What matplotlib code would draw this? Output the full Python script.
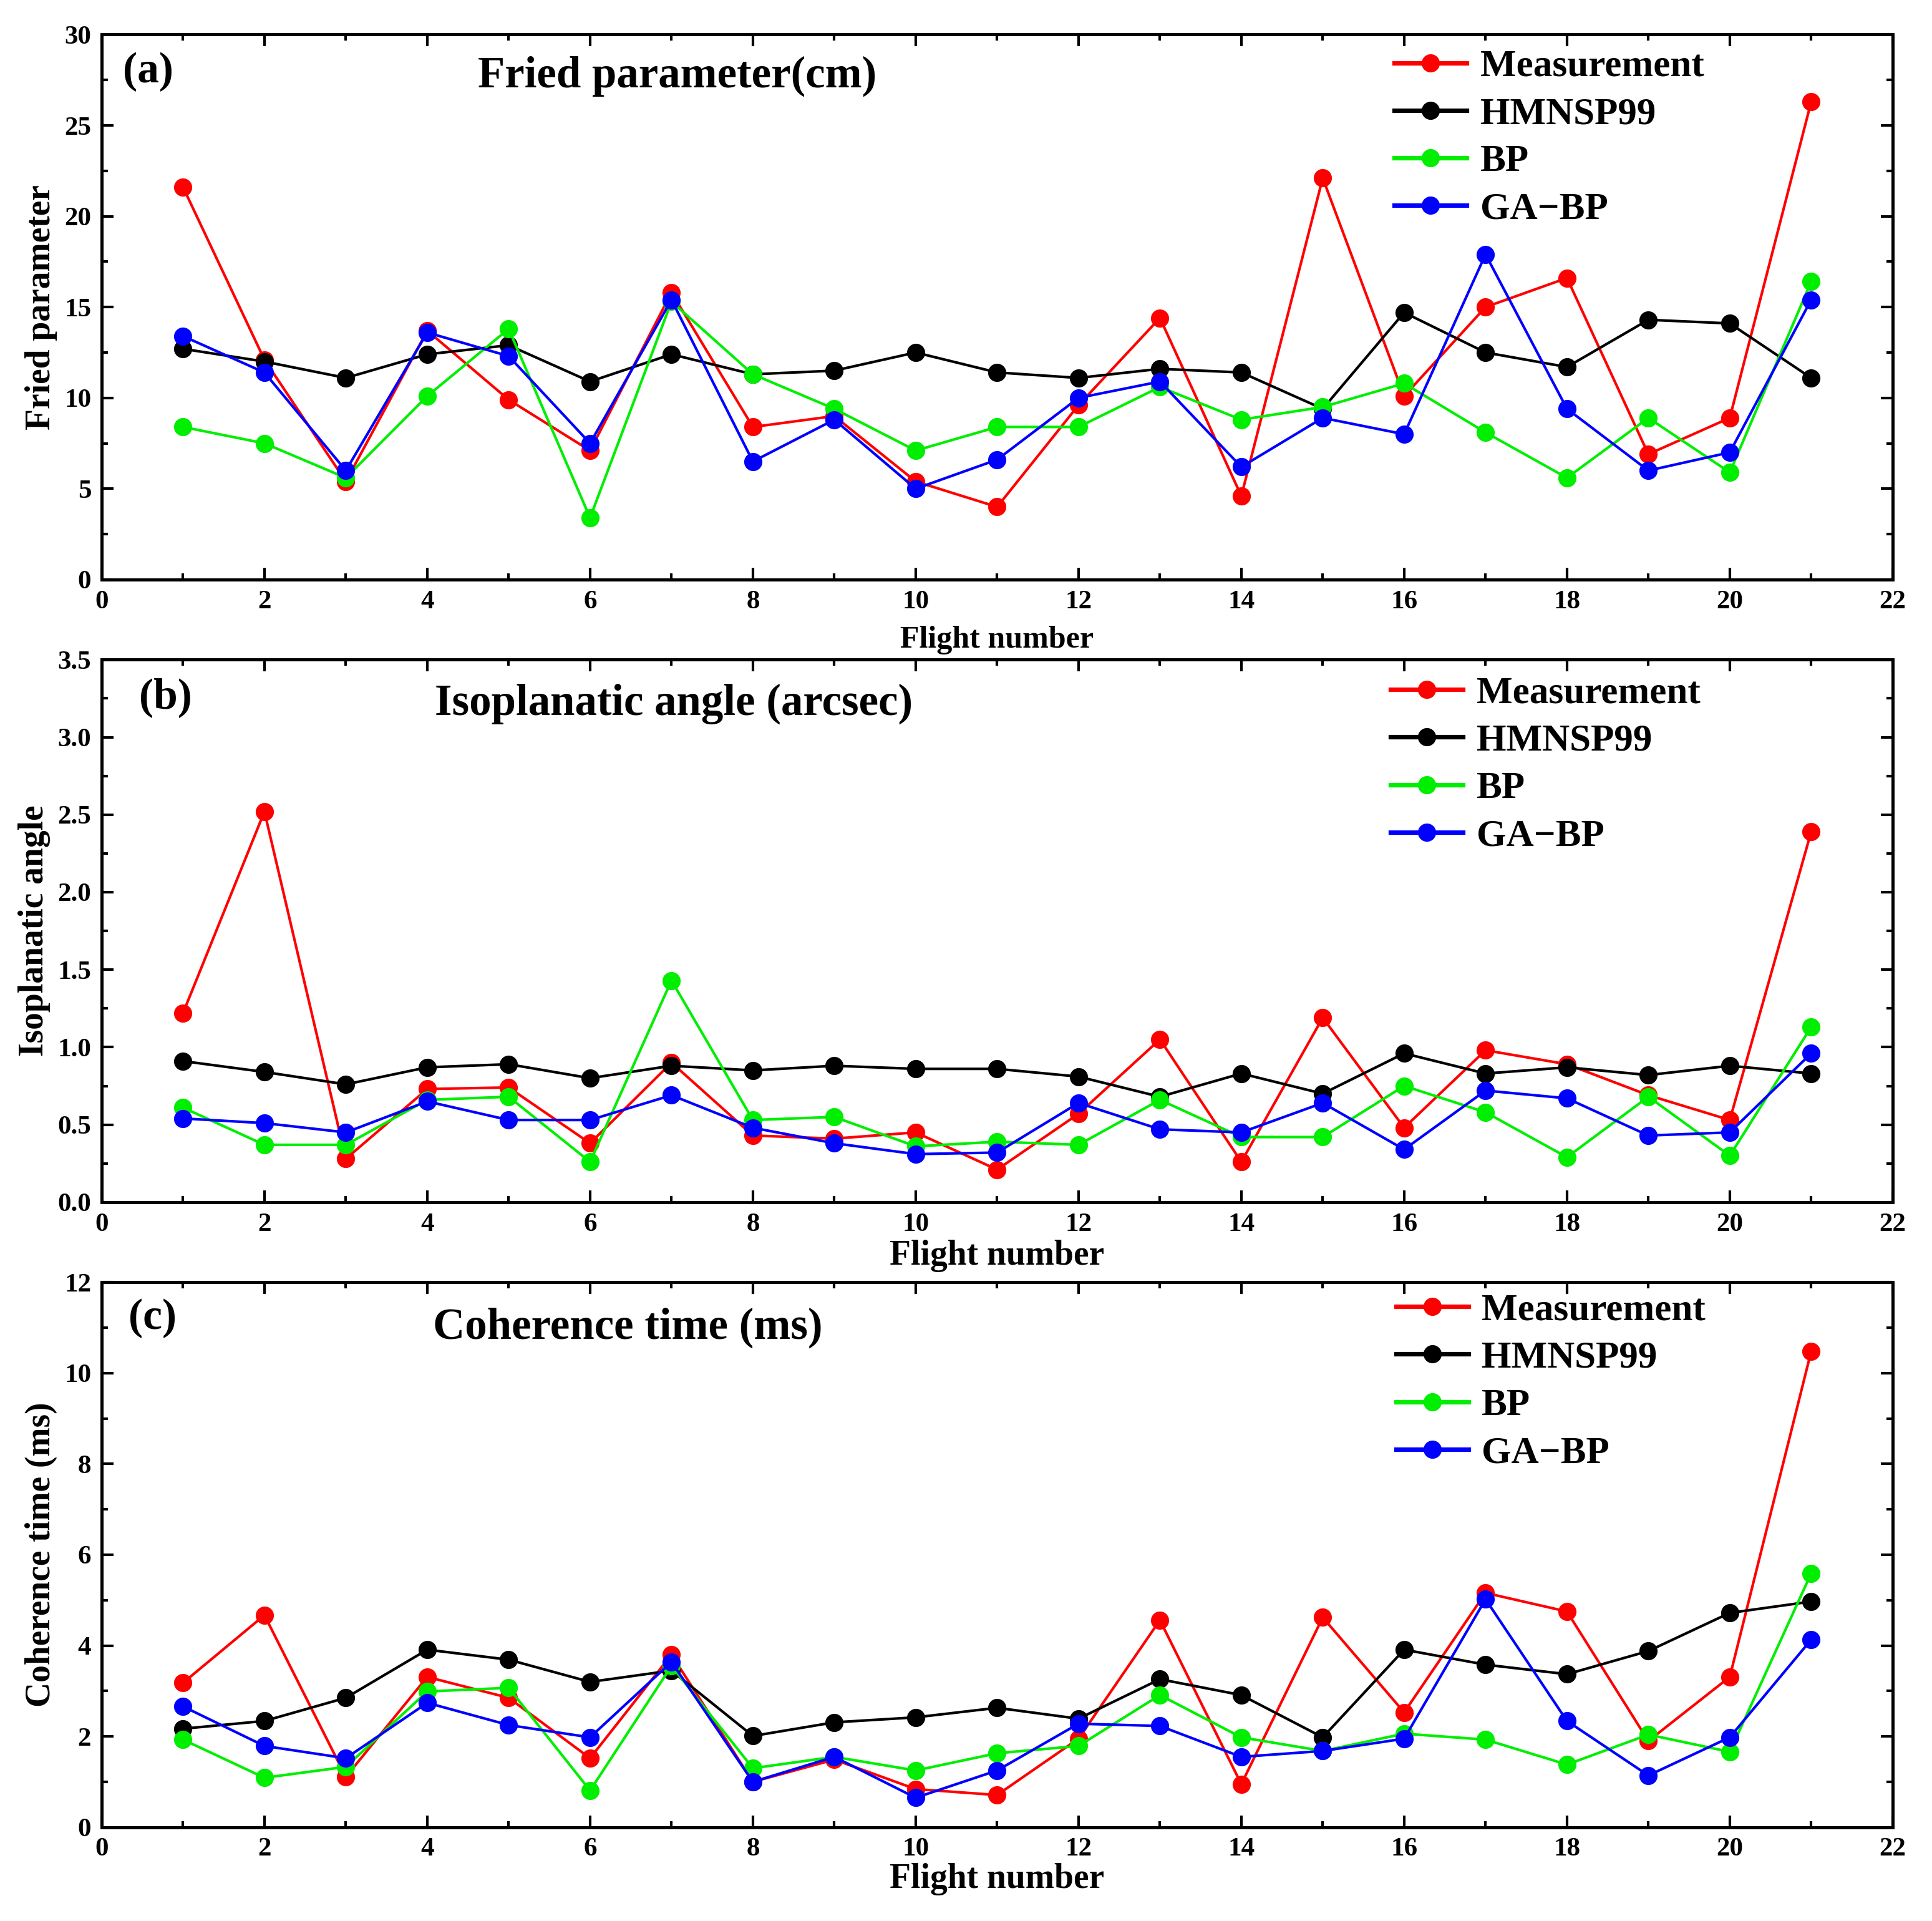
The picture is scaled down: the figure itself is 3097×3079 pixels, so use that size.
import matplotlib
matplotlib.use("Agg")
import matplotlib.pyplot as plt
from matplotlib.ticker import MultipleLocator

plt.rcParams['font.family'] = ['Liberation Serif', 'DejaVu Serif']
plt.rcParams['font.weight'] = 'bold'

flights = list(range(1, 22))

# (a) Fried parameter (cm)
r0_meas = [21.6, 12.1, 5.4, 13.7, 9.9, 7.1, 15.8, 8.4, 9.0, 5.4, 4.0, 9.6, 14.4, 4.6, 22.1, 10.1, 15.0, 16.6, 6.9, 8.9, 26.3]
r0_hmn = [12.7, 12.0, 11.1, 12.4, 12.9, 10.9, 12.4, 11.3, 11.5, 12.5, 11.4, 11.1, 11.6, 11.4, 9.4, 14.7, 12.5, 11.7, 14.3, 14.1, 11.1]
r0_bp = [8.4, 7.5, 5.6, 10.1, 13.8, 3.4, 15.3, 11.3, 9.4, 7.1, 8.4, 8.4, 10.6, 8.8, 9.5, 10.8, 8.1, 5.6, 8.9, 5.9, 16.4]
r0_gabp = [13.4, 11.4, 6.0, 13.6, 12.3, 7.5, 15.4, 6.5, 8.8, 5.0, 6.6, 10.0, 10.9, 6.2, 8.9, 8.0, 17.9, 9.4, 6.0, 7.0, 15.4]

# (b) Isoplanatic angle (arcsec)
th_meas = [1.22, 2.52, 0.28, 0.73, 0.74, 0.38, 0.90, 0.43, 0.41, 0.45, 0.21, 0.57, 1.05, 0.26, 1.19, 0.48, 0.98, 0.89, 0.69, 0.53, 2.39]
th_hmn = [0.91, 0.84, 0.76, 0.87, 0.89, 0.80, 0.88, 0.85, 0.88, 0.86, 0.86, 0.81, 0.68, 0.83, 0.70, 0.96, 0.83, 0.87, 0.82, 0.88, 0.83]
th_bp = [0.61, 0.37, 0.37, 0.66, 0.68, 0.26, 1.43, 0.53, 0.55, 0.36, 0.39, 0.37, 0.66, 0.42, 0.42, 0.75, 0.58, 0.29, 0.68, 0.30, 1.13]
th_gabp = [0.54, 0.51, 0.45, 0.65, 0.53, 0.53, 0.69, 0.48, 0.38, 0.31, 0.32, 0.64, 0.47, 0.45, 0.64, 0.34, 0.72, 0.67, 0.43, 0.45, 0.96]

# (c) Coherence time (ms)
t_meas = [3.18, 4.67, 1.11, 3.31, 2.85, 1.52, 3.80, 1.00, 1.49, 0.84, 0.71, 1.95, 4.56, 0.95, 4.62, 2.53, 5.16, 4.75, 1.90, 3.31, 10.48]
t_hmn = [2.17, 2.34, 2.85, 3.91, 3.69, 3.20, 3.45, 2.01, 2.31, 2.42, 2.63, 2.39, 3.26, 2.91, 1.98, 3.91, 3.58, 3.37, 3.88, 4.72, 4.97]
t_bp = [1.93, 1.09, 1.33, 2.99, 3.07, 0.81, 3.55, 1.30, 1.55, 1.25, 1.63, 1.79, 2.91, 1.98, 1.68, 2.06, 1.93, 1.38, 2.04, 1.66, 5.59]
t_gabp = [2.66, 1.79, 1.52, 2.74, 2.25, 1.98, 3.64, 1.00, 1.55, 0.65, 1.25, 2.28, 2.23, 1.55, 1.68, 1.95, 5.02, 2.34, 1.14, 1.98, 4.13]

series_names = ["Measurement", "HMNSP99", "BP", "GA\u2212BP"]
colors = ["#FF0000", "#000000", "#00EE00", "#0000FF"]

fig = plt.figure(figsize=(15.485, 15.395), dpi=200)

panels = [
    dict(pos=[0.0526, 0.6983, 0.927, 0.2837], data=[r0_meas, r0_hmn, r0_bp, r0_gabp],
         ylim=(0, 30), major=5, minor=2.5, ylabel="Fried parameter", label="(a)",
         title="Fried parameter(cm)", lab_xy=(0.012, 0.932), tit_xy=(0.21, 0.923),
         leg_anchor=(0.709, 1.015), xlabel_size=18, xlabelpad=7),
    dict(pos=[0.0526, 0.3742, 0.927, 0.2824], data=[th_meas, th_hmn, th_bp, th_gabp],
         ylim=(0, 3.5), major=0.5, minor=0.25, ylabel="Isoplanatic angle", label="(b)",
         title="Isoplanatic angle (arcsec)", lab_xy=(0.021, 0.93), tit_xy=(0.186, 0.918),
         leg_anchor=(0.707, 1.012), xlabel_size=20, xlabelpad=2),
    dict(pos=[0.0526, 0.0488, 0.927, 0.2837], data=[t_meas, t_hmn, t_bp, t_gabp],
         ylim=(0, 12), major=2, minor=1, ylabel="Coherence time (ms)", label="(c)",
         title="Coherence time (ms)", lab_xy=(0.015, 0.934), tit_xy=(0.185, 0.916),
         leg_anchor=(0.710, 1.022), xlabel_size=20, xlabelpad=1),
]

for p in panels:
    ax = fig.add_axes(p["pos"])
    for vals, name, c in zip(p["data"], series_names, colors):
        ax.plot(flights, vals, color=c, lw=1.5, marker='o', markersize=10.5,
                markeredgewidth=0, label=name)
    ax.set_xlim(0, 22)
    ax.set_ylim(*p["ylim"])
    ax.xaxis.set_major_locator(MultipleLocator(2))
    ax.xaxis.set_minor_locator(MultipleLocator(1))
    ax.yaxis.set_major_locator(MultipleLocator(p["major"]))
    ax.yaxis.set_minor_locator(MultipleLocator(p["minor"]))
    ax.tick_params(which='both', direction='in', top=True, right=True)
    ax.tick_params(which='major', length=7, width=1.5, labelsize=15.5, pad=6)
    ax.tick_params(which='minor', length=3.5, width=1.5)
    for lbl in ax.get_xticklabels() + ax.get_yticklabels():
        lbl.set_fontweight('bold')
    for s in ax.spines.values():
        s.set_linewidth(1.8)
    ax.set_xlabel("Flight number", fontsize=p["xlabel_size"], fontweight='bold',
                  labelpad=p["xlabelpad"])
    ax.set_ylabel(p["ylabel"], fontsize=20, fontweight='bold', labelpad=4)
    ax.text(p["lab_xy"][0], p["lab_xy"][1], p["label"], transform=ax.transAxes,
            fontsize=25, fontweight='bold', va='center', ha='left')
    ax.text(p["tit_xy"][0], p["tit_xy"][1], p["title"], transform=ax.transAxes,
            fontsize=25.5, fontweight='bold', va='center', ha='left')
    leg = ax.legend(loc='upper left', bbox_to_anchor=p["leg_anchor"], frameon=False,
                    prop=dict(family='Liberation Serif', weight='bold', size=22),
                    handlelength=1.9, handletextpad=0.35, labelspacing=0.33,
                    borderaxespad=0.2)
    for ln in leg.get_lines():
        ln.set_linewidth(2.6)

fig.savefig("out.png", dpi=200)
